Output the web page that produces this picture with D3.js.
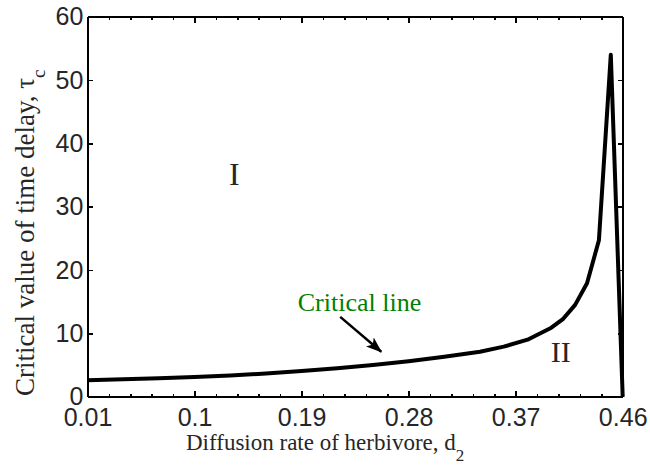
<!DOCTYPE html>
<meta charset="utf-8">
<head><title>Critical time delay</title>
<style>
body { margin: 0; background: #fff; }
.axis text { font-family: "Liberation Sans", Arial, Helvetica, sans-serif; font-size: 25px; fill: #262626; }
.axis path, .axis line { stroke: #000; stroke-width: 1.6px; shape-rendering: crispEdges; }
.title { font-family: "Liberation Serif", "Times New Roman", serif; fill: #262626; }
</style>
</head>
<body>
<svg width="650" height="465"></svg>
<script src="https://d3js.org/d3.v7.min.js"></script>
<script>

// diffusion rate d2 and critical delay tau_c
var d2 = [0.01, 0.04, 0.07, 0.10, 0.13, 0.16, 0.19, 0.22, 0.25, 0.28, 0.31, 0.34,
          0.36, 0.38, 0.40, 0.41, 0.42, 0.43, 0.44, 0.45, 0.46];
var tauC = [2.6, 2.75, 2.9, 3.1, 3.35, 3.65, 4.05, 4.5, 5.0, 5.6, 6.3, 7.1,
            7.9, 9.0, 10.9, 12.3, 14.5, 17.9, 24.7, 54.0, 0];

var xMajor = [0.01, 0.1, 0.19, 0.28, 0.37, 0.46];
var xMinor = [0.01, 0.028, 0.046, 0.064, 0.082, 0.1, 0.118, 0.136, 0.154, 0.172,
              0.19, 0.208, 0.226, 0.244, 0.262, 0.28, 0.298, 0.316, 0.334, 0.352,
              0.37, 0.388, 0.406, 0.424, 0.442, 0.46];
var yTicks = [0, 10, 20, 30, 40, 50, 60];

// annotations: [d2, tau]
var regionLabels = [{ text: "I", at: [0.1335, 33.4], size: 32 },
                    { text: "II", at: [0.408, 5.5], size: 30 }];
var arrowFrom = [0.2225, 12.6], arrowTo = [0.257, 7.1];
var critLabelAt = [0.1868, 13.5];

var svg = d3.select("svg"),
    width = +svg.attr("width"),
    height = +svg.attr("height");

var margin = { top: 16.7, right: 27.3, bottom: 68.3, left: 87.5 };
var w = width - margin.left - margin.right,
    h = height - margin.top - margin.bottom;

var g = svg.append("g").attr("transform", "translate(" + margin.left + "," + margin.top + ")");

var x = d3.scaleLinear().domain([0.01, 0.46]).range([0, w]);
var y = d3.scaleLinear().domain([0, 60]).range([h, 0]);

//minor ticks bottom and top
g.append("g").attr("class", "axis").attr("transform", "translate(0," + h + ")")
  .call(d3.axisBottom(x).tickValues(xMinor).tickSizeInner(-3).tickSizeOuter(0).tickFormat(""));
g.append("g").attr("class", "axis")
  .call(d3.axisTop(x).tickValues(xMinor).tickSizeInner(-3).tickSizeOuter(0).tickFormat(""));

//major ticks with labels
g.append("g").attr("class", "axis").attr("transform", "translate(0," + h + ")")
  .call(d3.axisBottom(x).tickValues(xMajor).tickSizeInner(-6).tickSizeOuter(0)
        .tickPadding(11.3).tickFormat(d3.format("")));
g.append("g").attr("class", "axis")
  .call(d3.axisTop(x).tickValues(xMajor).tickSizeInner(-6).tickSizeOuter(0).tickFormat(""));

g.append("g").attr("class", "axis")
  .call(d3.axisLeft(y).tickValues(yTicks).tickSizeInner(-5).tickSizeOuter(0).tickPadding(4.2));
g.append("g").attr("class", "axis").attr("transform", "translate(" + w + ",0)")
  .call(d3.axisRight(y).tickValues(yTicks).tickSizeInner(-5).tickSizeOuter(0).tickFormat(""));

// curve
var pts = d2.map(function(d, i) { return [d, tauC[i]]; });
var line = d3.line().x(function(d) { return x(d[0]); }).y(function(d) { return y(d[1]); });
g.append("path").datum(pts)
  .attr("d", line)
  .attr("fill", "none")
  .attr("stroke", "#000")
  .attr("stroke-width", 4)
  .attr("stroke-linejoin", "round");

// region labels
g.selectAll(".region").data(regionLabels).enter().append("text")
  .attr("class", "title")
  .attr("x", function(d) { return x(d.at[0]); })
  .attr("y", function(d) { return y(d.at[1]); })
  .attr("text-anchor", "middle")
  .style("font-size", function(d) { return d.size + "px"; })
  .text(function(d) { return d.text; });

// critical line label + arrow
g.append("text")
  .attr("x", x(critLabelAt[0])).attr("y", y(critLabelAt[1]))
  .style("font-family", "'Liberation Serif', 'Times New Roman', serif")
  .style("font-size", "26px")
  .attr("fill", "#008000")
  .text("Critical line");

svg.append("defs").append("marker")
  .attr("id", "head")
  .attr("markerUnits", "userSpaceOnUse")
  .attr("viewBox", "0 0 16 12")
  .attr("refX", 15).attr("refY", 6)
  .attr("markerWidth", 16).attr("markerHeight", 12)
  .attr("orient", "auto")
  .append("path").attr("d", "M0,0 L16,6 L0,12 L4,6 Z").attr("fill", "#000");

g.append("line")
  .attr("x1", x(arrowFrom[0])).attr("y1", y(arrowFrom[1]))
  .attr("x2", x(arrowTo[0])).attr("y2", y(arrowTo[1]))
  .attr("stroke", "#000").attr("stroke-width", 2.5)
  .attr("marker-end", "url(#head)");

// axis titles
var xt = svg.append("text").attr("class", "title")
  .attr("x", 186).attr("y", 450)
  .style("font-size", "23px");
xt.append("tspan").text("Diffusion rate of herbivore, d");
xt.append("tspan").attr("dy", 11).style("font-size", "17px").text("2");

var yt = svg.append("text").attr("class", "title")
  .attr("transform", "translate(34,396) rotate(-90)")
  .style("font-size", "27px");
yt.append("tspan").text("Critical value of time delay, \u03c4");
yt.append("tspan").attr("dy", 11).style("font-size", "19px").text("c");

</script>
</body>
